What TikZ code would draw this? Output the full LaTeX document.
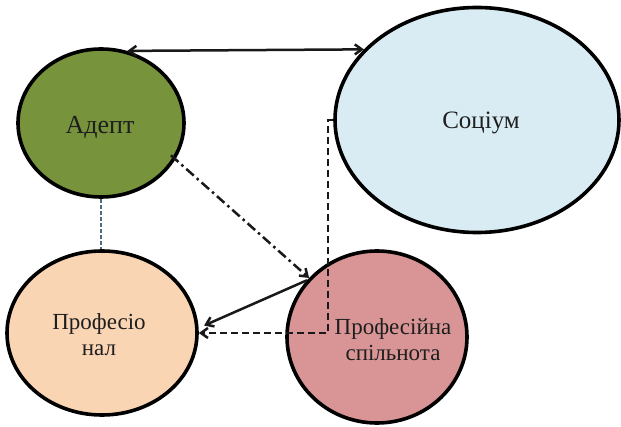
\documentclass[tikz,border=0pt]{standalone}
\usepackage{fontspec}
\setmainfont{Liberation Serif}
\usetikzlibrary{shapes.geometric,arrows.meta}
\definecolor{adeptgreen}{HTML}{77933C}
\definecolor{sociumblue}{HTML}{D9ECF3}
\definecolor{profpeach}{HTML}{FAD5B4}
\definecolor{spilrose}{HTML}{D99595}
\definecolor{linkgray}{HTML}{4B6A7E}
\definecolor{inktext}{HTML}{1E1E1E}
\begin{document}
\begin{tikzpicture}[x=1pt,y=-1pt,
  blob/.style={ellipse,draw=black,line width=3.6pt,inner sep=0pt},
  lbl/.style={text=inktext,align=center},
  conn/.style={line width=2.5pt,draw=black!90},
  tipend/.style={-{Straight Barb[length=7pt,width=10pt]}},
  tipboth/.style={{Straight Barb[length=7pt,width=10pt]}-{Straight Barb[length=7pt,width=10pt]}}
]
\useasboundingbox (0,0) rectangle (621,427);
\fill[white] (0,0) rectangle (621,427);
% circles
\node[blob,fill=adeptgreen,minimum width=166pt,minimum height=148pt] (adept) at (101,123) {};
\node[blob,fill=sociumblue,minimum width=284pt,minimum height=225pt] (socium) at (477,120) {};
\node[blob,fill=profpeach,minimum width=190pt,minimum height=164pt] (prof) at (102,333) {};
\node[blob,fill=spilrose,minimum width=180pt,minimum height=172pt] (spil) at (377,337) {};
% connectors
\draw[conn,tipboth] (adept.70) -- (socium.148);
\draw[conn,tipend,dash pattern=on 10pt off 4pt on 2.5pt off 4pt,shorten <=-6pt] (adept.-26) -- (spil.139);
\draw[conn,tipend,shorten >=6pt] (spil.141) -- (prof.3);
\draw[conn,tipend,dash pattern=on 7pt off 4pt] (socium.west) -- ++(-5,0) |- (prof.east);
\draw[line width=2.6pt,linkgray,dash pattern=on 4pt off 2pt] (adept.south) -- (adept.south |- prof.north);
% labels
\node[lbl,font=\fontsize{26}{29}\selectfont] (adepttext) at (100,127) {Адепт};
\node[lbl,font=\fontsize{25}{28}\selectfont] (sociumtext) at (481,123) {Соціум};
\node[lbl,font=\fontsize{23}{26}\selectfont] (proftext) at (99,335) {Професіо\\нал};
\node[lbl,font=\fontsize{23}{26}\selectfont] (spiltext) at (393,340) {Професійна\\спільнота};
\end{tikzpicture}
\end{document}
